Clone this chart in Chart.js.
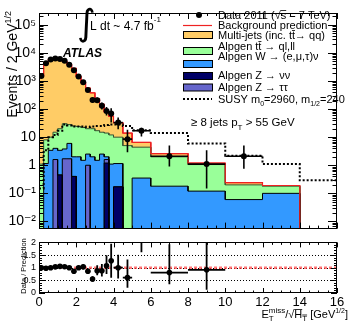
<!DOCTYPE html>
<html><head><meta charset="utf-8">
<script src="https://cdn.jsdelivr.net/npm/chart.js@4.4.1/dist/chart.umd.min.js"></script>
<style>
html,body{margin:0;padding:0;background:#fff;}
body{width:349px;height:323px;position:relative;overflow:hidden}
canvas{position:absolute;left:0}
#main{top:0}
#ratio{top:234px}
</style></head><body>
<canvas id="main" width="349" height="240"></canvas>
<canvas id="ratio" width="349" height="89"></canvas>
<script>
// ---------------- data ----------------
const binEdges = [0,0.25,0.5,0.75,1,1.25,1.5,1.75,2,2.25,2.5,2.75,3,3.25,3.5,3.75,4,4.5,5,6,8,10,12,14,16];
const dataValues  = [1500,4300,5800,6300,6000,5200,3800,2400,1450,900,480,210,205,130,85,70,33,8.5,17,2.1,1.1,2.1,null,null];
const dataErrUp   = [110,185,215,225,220,205,175,140,108,85,62,41,51,40,33,37,17,10,4.5,2.9,2.3,3.0,null,null];
const dataErrDown = [110,185,215,225,220,205,175,140,108,85,62,41,42,34,26,37,14,5.6,6.5,1.2,0.95,1.35,null,null];
const multijet = [1499,4392,5790,6085,5680,4970,3772,2775,1426,848,540,360,216,133,65,43,23,9,2.1,0.6,0.14,0.04,0.01,0];
const ttbar    = [1.1,6.85,6.6,11,16.6,26.2,22,23,22,20.5,17.5,18,15.5,12.5,12,10.9,8.85,5,4.05,1.82,0.94,0.14,0.08,0];
const wjets    = [0,1.15,3.4,2.4,2.95,2.1,4.3,1.6,2.0,1.5,1.5,2.0,1.5,2.5,0.4,1.1,0.98,0,0.35,0.18,0.12,0.06,0.1,0];
const zvv      = [0,0,0,0,0.45,0,0,0.4,0,0,0,0,0,0,1.2,0,0.17,0,0,0,0,0,0,0];
const ztautau  = [0,0,0,1.6,0,1.7,1.7,0,0,0,1.0,0,0,0,0.4,0,0,0,0,0,0,0,0,0];
const susySignal = [0.15,3.4,10,12,17,28,26,24,24,24,23,24,25,25,27,28,28,25,17.6,14,6,2.2,1.1,0.29];

const mainYTicks = [0.01,0.1,1,10,100,1000,10000,100000];
const mainYTickLabels = ['10\u207B\u00B2','10\u207B\u00B9','1','10','10\u00B2','10\u00B3','10\u2074','10\u2075'];
const xTicks = [0,2,4,6,8,10,12,14,16];
const xTickLabels = ['0','2','4','6','8','10','12','14','16'];
const ratioYTicks = [0,0.5,1,1.5,2];
const ratioYTickLabels = ['0','0.5','1','1.5','2'];
const ratioGuides = [0.5,1,1.5];

const legendEntries = [
  {kind:'marker', text:[{t:'Data 2011 ('},{t:'\u221A'},{t:'s',over:true},{t:' = 7 TeV)'}]},
  {kind:'line',   text:[{t:'Background prediction'}]},
  {kind:'box', color:'#FFCC66', text:[{t:'Multi-jets (inc. t'},{t:'t',over:true},{t:'\u2192 qq)'}]},
  {kind:'box', color:'#99FF99', text:[{t:'Alpgen t'},{t:'t',over:true},{t:' \u2192 ql,ll'}]},
  {kind:'box', color:'#3399FF', text:[{t:'Alpgen W \u2192 (e,\u03BC,\u03C4)\u03BD'}]},
  {kind:'box', color:'#000066', text:[{t:'Alpgen Z \u2192 \u03BD\u03BD'}]},
  {kind:'box', color:'#6666CC', text:[{t:'Alpgen Z \u2192 \u03C4\u03C4'}]},
  {kind:'dotted', text:[{t:'SUSY m'},{t:'0',size:7,dy:2.5},{t:'=2960, m'},{t:'1/2',size:7,dy:2.5},{t:'=240'}]}
];

// ---------------- helpers ----------------
const FAM = '"Liberation Sans", Arial, Helvetica, "DejaVu Sans", sans-serif';
Chart.defaults.font.family = FAM;
Chart.defaults.color = '#000';
const nb = binEdges.length - 1;
const Y_MIN = Math.pow(10,-2.255), Y_MAX = Math.pow(10,5.42);
const FLOOR = 1e-4;

function cumulate(list){
  const out=[]; let run=new Array(nb).fill(0);
  for(const arr of list){ run=run.map((v,i)=>v+(arr[i]||0)); out.push(run.slice()); }
  return out;
}
const [cZvv,cZtt,cW,cTt,cTot] = cumulate([zvv,ztautau,wjets,ttbar,multijet]);

function histPoints(vals){
  const pts=[];
  for(let i=0;i<nb;i++){ const v=vals[i]>0?vals[i]:FLOOR; pts.push({x:binEdges[i],y:v},{x:binEdges[i+1],y:v}); }
  return pts;
}
const centers = binEdges.slice(0,-1).map((e,i)=>(e+binEdges[i+1])/2);

function setFont(ctx,size,style){ ctx.font=(style||'')+' '+size+'px '+FAM; }
function drawRich(ctx,segs,x,y,opts){
  const items=segs.map(s=>Object.assign({},s,{size:s.size||opts.size}));
  let total=0,keepW=0;
  for(const s of items){ setFont(ctx,s.size,s.style||opts.style); s.w=ctx.measureText(s.t).width;
    if(s.keep){keepW=s.w;s.adv=0;} else {s.adv=Math.max(s.w,keepW);keepW=0;} total+=s.adv; }
  let cx = opts.align==='right'? x-total : opts.align==='center'? x-total/2 : x;
  ctx.textAlign='left'; ctx.textBaseline='alphabetic'; ctx.fillStyle='#000';
  for(const s of items){ setFont(ctx,s.size,s.style||opts.style);
    const yy=y+(s.dy||0); ctx.fillText(s.t,cx,yy);
    if(s.over){ ctx.fillRect(cx,yy-s.size*0.8,s.w,Math.max(0.8,s.size*0.07)); }
    cx+=s.adv; }
  return total;
}
function drawFrameTicks(ctx,a,xs,ys,opt){
  ctx.save(); ctx.strokeStyle='#000'; ctx.lineWidth=1; ctx.beginPath();
  for(let k=0;k<=32;k++){ const v=k*0.5; const px=Math.round(xs.getPixelForValue(v))+0.5;
    const len=(k%4===0)?opt.xMajor:opt.xMinor;
    ctx.moveTo(px,a.bottom); ctx.lineTo(px,a.bottom-len); ctx.moveTo(px,a.top); ctx.lineTo(px,a.top+len); }
  for(const t of opt.yTicks){ const v=t.v; if(v<ys.min-1e-12||v>ys.max+1e-12) continue;
    const py=Math.round(ys.getPixelForValue(v))+0.5;
    ctx.moveTo(a.left,py); ctx.lineTo(a.left+t.len,py); ctx.moveTo(a.right,py); ctx.lineTo(a.right-t.len,py); }
  ctx.stroke();
  ctx.strokeRect(Math.round(a.left)+0.5,Math.round(a.top)+0.5,Math.round(a.right-a.left)-1,Math.round(a.bottom-a.top)-1);
  ctx.restore();
}
const logTickList=[]; for(let e=-3;e<=5;e++){ for(let m=1;m<=9;m++){ logTickList.push({v:m*Math.pow(10,e),len:m===1?9:4.5}); } }
const ratioTickList=[]; for(let k=0;k<=20;k++){ ratioTickList.push({v:k*0.1,len:(k%5===0)?6:3}); }

// ---------------- main panel ----------------
const legendText = [15,25,35,46,56,75,87,99];     // text row centres
const legendSym  = [15,25,35,51,64,76,87.5,99];   // symbol centres
const mainDecor = {
  id:'mainDecor',
  afterDatasetsDraw(chart){
    const {ctx,chartArea:a,scales:{x,y}}=chart;
    ctx.save(); ctx.beginPath(); ctx.rect(a.left,a.top,a.right-a.left,a.bottom-a.top); ctx.clip();
    ctx.strokeStyle='#000'; ctx.lineWidth=1.6;
    for(let i=0;i<nb;i++){ const v=dataValues[i]; if(v==null) continue;
      const cx=x.getPixelForValue(centers[i]), py=y.getPixelForValue(v);
      const top=y.getPixelForValue(v+dataErrUp[i]);
      const bot=y.getPixelForValue(Math.max(v-dataErrDown[i],FLOOR));
      ctx.beginPath(); ctx.moveTo(cx,top); ctx.lineTo(cx,bot);
      ctx.moveTo(x.getPixelForValue(binEdges[i]),py); ctx.lineTo(x.getPixelForValue(binEdges[i+1]),py); ctx.stroke(); }
    ctx.restore();
    drawFrameTicks(ctx,a,x,y,{xMajor:6,xMinor:3,yTicks:logTickList});
    ctx.save(); ctx.translate(17,11); ctx.rotate(-Math.PI/2);
    drawRich(ctx,[{t:'Events / 2 GeV'},{t:'1/2',size:9,dy:-6}],0,0,{size:14,align:'right'}); ctx.restore();
    ctx.save(); ctx.fillStyle='#000'; ctx.font='36px "DejaVu Sans", sans-serif'; ctx.textBaseline='alphabetic';
    ctx.fillText('\u222B',77,35); ctx.restore();
    drawRich(ctx,[{t:'L dt ~ 4.7 fb'},{t:'-1',size:8,dy:-8}],90,29.5,{size:12});
    drawRich(ctx,[{t:'ATLAS'}],63,56.5,{size:12,style:'italic bold'});
    drawRich(ctx,[{t:'\u2265 8 jets p'},{t:'T',size:8,dy:4},{t:' > 55 GeV'}],191,126,{size:11.5});
    legendEntries.forEach((e,i)=>{ const cy=legendSym[i];
      ctx.save();
      if(e.kind==='marker'){ ctx.fillStyle='#000'; ctx.beginPath(); ctx.arc(199,cy,3,0,Math.PI*2); ctx.fill(); }
      else if(e.kind==='line'){ ctx.strokeStyle='#EE2222'; ctx.lineWidth=1.2; ctx.beginPath(); ctx.moveTo(183,cy+0.5); ctx.lineTo(212,cy+0.5); ctx.stroke(); }
      else if(e.kind==='box'){ ctx.fillStyle=e.color; ctx.fillRect(183,cy-3.5,29,7); ctx.strokeStyle='#000'; ctx.lineWidth=1; ctx.strokeRect(183.5,cy-3.5,29,7); }
      else if(e.kind==='dotted'){ ctx.strokeStyle='#000'; ctx.lineWidth=2; ctx.setLineDash([2,2]); ctx.beginPath(); ctx.moveTo(183,cy); ctx.lineTo(212,cy); ctx.stroke(); }
      ctx.restore();
      drawRich(ctx,e.text,218,legendText[i]+4,{size:11});
    });
  }
};

function stackDs(label,vals,fill,border,order){
  return {label,data:histPoints(vals),backgroundColor:fill,borderColor:border,borderWidth:1,
    fill:'start',pointRadius:0,tension:0,order};
}
new Chart(document.getElementById('main'),{
  type:'line',
  data:{datasets:[
    {label:'Data 2011',data:centers.map((c,i)=>({x:c,y:dataValues[i]})).filter(p=>p.y!=null),
      showLine:false,pointRadius:3,pointBackgroundColor:'#000',pointBorderWidth:0,order:0},
    {label:'SUSY',data:histPoints(susySignal),borderColor:'#000',borderWidth:2,borderDash:[2,2],
      fill:false,pointRadius:0,tension:0,order:1},
    {label:'Background prediction',data:histPoints(cTot),borderColor:'#EE2222',borderWidth:1.2,
      fill:false,pointRadius:0,tension:0,order:2},
    stackDs('Z nunu',cZvv,'#000066','#000',3),
    stackDs('Z tautau',cZtt,'#6666CC','#000',4),
    stackDs('W',cW,'#3399FF','#000',5),
    stackDs('ttbar',cTt,'#99FF99','#335533',6),
    stackDs('Multi-jets',cTot,'#FFCC66','#EE2222',7)
  ]},
  options:{
    responsive:false,animation:false,devicePixelRatio:1,
    layout:{padding:{left:0,right:12,top:13,bottom:7}},
    plugins:{legend:{display:false},tooltip:{enabled:false}},
    scales:{
      x:{type:'linear',min:0,max:16,display:false},
      y:{type:'logarithmic',min:Y_MIN,max:Y_MAX,
        afterFit:s=>{s.width=39;},
        afterBuildTicks:s=>{s.ticks=mainYTicks.map(v=>({value:v}));},
        ticks:{callback:(v,i)=>mainYTickLabels[i],font:{size:14},color:'#000',padding:3,autoSkip:false,maxRotation:0},
        grid:{display:false,drawTicks:false},border:{display:false}}
    }
  },
  plugins:[mainDecor]
});

// ---------------- ratio panel ----------------
const ratioVals = dataValues.map((v,i)=> v==null? null : v/cTot[i]);
const ratioUp   = dataErrUp.map((e,i)=> e==null? null : e/cTot[i]);
const ratioDown = dataErrDown.map((e,i)=> e==null? null : e/cTot[i]);

const ratioDecor = {
  id:'ratioDecor',
  beforeDatasetsDraw(chart){
    const {ctx,chartArea:a,scales:{y}}=chart;
    ctx.save(); ctx.strokeStyle='#000'; ctx.lineWidth=1; ctx.setLineDash([1,2]);
    for(const g of ratioGuides){ const py=Math.round(y.getPixelForValue(g))+0.5; ctx.beginPath(); ctx.moveTo(a.left,py); ctx.lineTo(a.right,py); ctx.stroke(); }
    ctx.strokeStyle='rgba(255,60,60,0.7)'; ctx.lineWidth=2.5; ctx.setLineDash([3,2]);
    const p1=y.getPixelForValue(1); ctx.beginPath(); ctx.moveTo(a.left,p1); ctx.lineTo(a.right,p1); ctx.stroke();
    ctx.restore();
  },
  afterDatasetsDraw(chart){
    const {ctx,chartArea:a,scales:{x,y}}=chart;
    ctx.save(); ctx.beginPath(); ctx.rect(a.left,a.top,a.right-a.left,a.bottom-a.top); ctx.clip();
    ctx.strokeStyle='#000'; ctx.lineWidth=1.8;
    for(let i=0;i<nb;i++){ const r=ratioVals[i]; if(r==null) continue;
      const cx=x.getPixelForValue(centers[i]), py=y.getPixelForValue(r);
      ctx.beginPath(); ctx.moveTo(cx,y.getPixelForValue(r+ratioUp[i])); ctx.lineTo(cx,y.getPixelForValue(r-ratioDown[i]));
      ctx.moveTo(x.getPixelForValue(binEdges[i]),py); ctx.lineTo(x.getPixelForValue(binEdges[i+1]),py); ctx.stroke(); }
    ctx.restore();
    drawFrameTicks(ctx,a,x,y,{xMajor:5,xMinor:2.5,yTicks:ratioTickList});
    ctx.save(); ctx.translate(25.5,266-234); ctx.rotate(-Math.PI/2);
    drawRich(ctx,[{t:'Data / Prediction'}],0,0,{size:7.5,align:'center'}); ctx.restore();
    drawRich(ctx,[{t:'E'},{t:'miss',size:8,dy:-5,keep:true},{t:'T',size:8,dy:3},{t:'/'},{t:'\u221A'},
      {t:'H',over:true},{t:'T',size:8,dy:3,over:true},{t:' [GeV'},{t:'1/2',size:7,dy:-5},{t:']'}],
      348,318-234,{size:11,align:'right'});
  }
};

new Chart(document.getElementById('ratio'),{
  type:'line',
  data:{datasets:[
    {label:'Data / Prediction',data:centers.map((c,i)=>({x:c,y:ratioVals[i]})).filter(p=>p.y!=null),
      showLine:false,pointRadius:2.8,pointBackgroundColor:'#000',pointBorderWidth:0}
  ]},
  options:{
    responsive:false,animation:false,devicePixelRatio:1,
    layout:{padding:{left:0,right:12,top:5,bottom:0}},
    plugins:{legend:{display:false},tooltip:{enabled:false}},
    scales:{
      x:{type:'linear',min:0,max:16,
        afterFit:s=>{s.height=30;},
        afterBuildTicks:s=>{s.ticks=xTicks.map(v=>({value:v}));},
        ticks:{callback:(v,i)=>xTickLabels[i],font:{size:13},color:'#000',padding:2,autoSkip:false,maxRotation:0},
        grid:{display:false,drawTicks:false},border:{display:false}},
      y:{type:'linear',min:0,max:2,
        afterFit:s=>{s.width=39;},
        afterBuildTicks:s=>{s.ticks=ratioYTicks.map(v=>({value:v}));},
        ticks:{callback:(v,i)=>ratioYTickLabels[i],font:{size:9},color:'#000',padding:3,autoSkip:false},
        grid:{display:false,drawTicks:false},border:{display:false}}
    }
  },
  plugins:[ratioDecor]
});
</script>
</body></html>
